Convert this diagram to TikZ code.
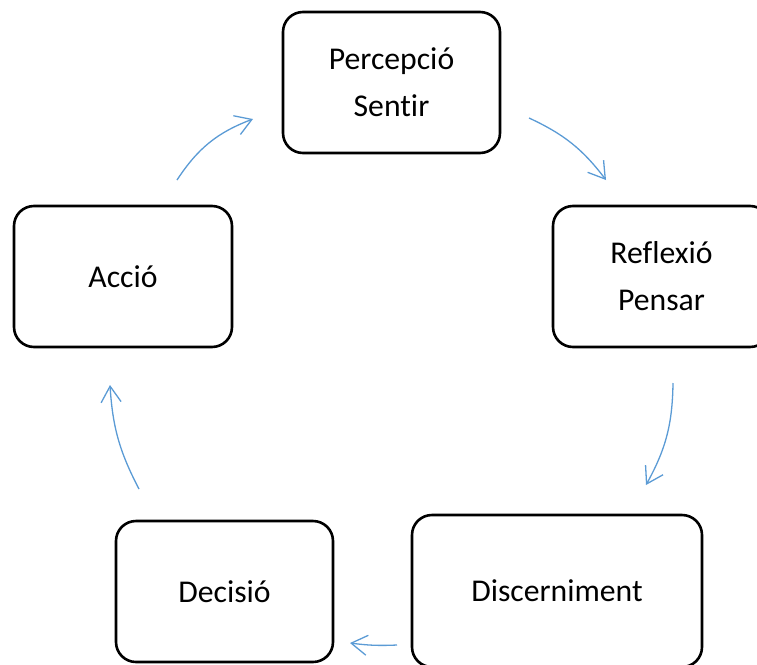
\documentclass[tikz,border=0pt]{standalone}
\usepackage{fontspec}
\setmainfont{Carlito}[Ligatures=NoCommon]
\usetikzlibrary{arrows.meta}

\definecolor{arrowblue}{HTML}{5B9BD5}

\begin{document}
\begin{tikzpicture}[x=1pt, y=1pt,
    box/.style={draw, line width=2.6pt, rounded corners=20pt,
        minimum width=217pt, minimum height=141pt, inner sep=0pt},
    txt/.style={align=center, font=\fontsize{31.7}{47}\selectfont, inner sep=0pt},
    cyc/.style={draw=arrowblue, line width=1.3pt,
        -{Straight Barb[length=16pt, width=20pt]}}]
  \useasboundingbox (0,0) rectangle (757,-664);
  \clip (0,0) rectangle (757,-664);

  \node[box, txt] (percepcio) at (391.5, -82.5) {Percepció\\Sentir};
  \node[box, txt] (reflexio) at (661.5, -276.5) {Reflexió\\Pensar};
  \node[box, txt, minimum width=290pt, minimum height=152pt] (discerniment) at (557, -591) {Discerniment};
  \node[box, txt] (decisio) at (224.5, -591.5) {Decisió};
  \node[box, txt, minimum width=218pt] (accio) at (123, -276.5) {Acció};

  % arrow ends
  \coordinate (a1) at (177, -180);
  \coordinate (p1) at (253, -119);
  \coordinate (p2) at (529, -118);
  \coordinate (r1) at (606, -180);
  \coordinate (r2) at (673, -383);
  \coordinate (d1) at (646, -485);
  \coordinate (d2) at (397, -645);
  \coordinate (e1) at (350, -643);
  \coordinate (e2) at (139, -489);
  \coordinate (a2) at (110, -385);

  \draw[cyc] (a1) to[bend left=18] (p1);
  \draw[cyc] (p2) to[bend left=14] (r1);
  \draw[cyc] (r2) to[bend left=14] (d1);
  \draw[cyc] (d2) to[bend left=5] (e1);
  \draw[cyc] (e2) to[bend left=12] (a2);
\end{tikzpicture}
\end{document}
